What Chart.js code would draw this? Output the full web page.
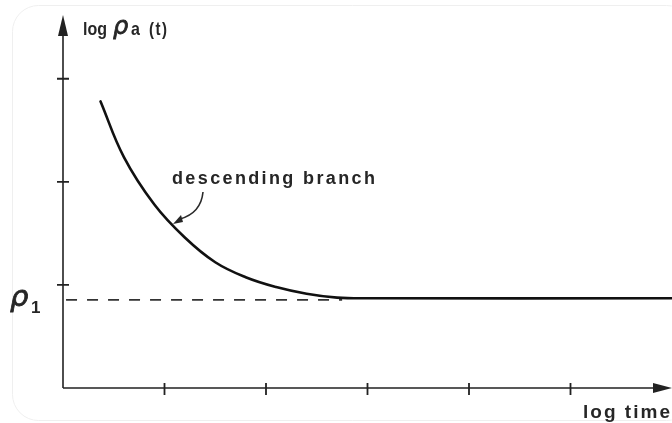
<!DOCTYPE html>
<html>
<head>
<meta charset="utf-8">
<script src="https://cdn.jsdelivr.net/npm/chart.js@4/dist/chart.umd.min.js"></script>
<style>
  html, body { margin: 0; padding: 0; background: #fff; }
  #c { display: block; }
</style>
</head>
<body>
<canvas id="c" width="672" height="423"></canvas>
<script>
// values (x in log-time units, y in log-rho units)
const branchX = [0.37, 0.6, 0.9, 1.2, 1.5, 1.8, 2.1, 2.4, 2.7, 3.0, 6.0];
const branchY = [2.78, 2.24, 1.78, 1.46, 1.22, 1.075, 0.98, 0.915, 0.877, 0.87, 0.87];
const rho1Level = 0.854;
const rho1End = 2.75;
const xTicks = [1, 2, 3, 4, 5];
const yTicks = [1, 2, 3];
const xMax = 6.0;
const yMax = 3.57;

const ink = '#222';

// text squeezed or spread to the width it has in the scan
function fitText(ctx, text, x, y, width, font) {
  ctx.font = font;
  ctx.letterSpacing = '0px';
  const w = ctx.measureText(text).width;
  const gap = (width - w) / (text.length - 1);
  ctx.letterSpacing = gap.toFixed(2) + 'px';
  ctx.fillText(text, x, y);
  ctx.letterSpacing = '0px';
}

// rho drawn a little heavier than the regular face, like the scan
function rho(ctx, x, y, size) {
  ctx.font = 'italic ' + size + 'px "DejaVu Sans", sans-serif';
  ctx.lineWidth = 0.8;
  ctx.strokeStyle = ctx.fillStyle;
  ctx.fillText('ρ', x, y);
  ctx.strokeText('ρ', x, y);
}

// axes, arrows and tick marks drawn through the chart's own scales
const axesPlugin = {
  id: 'axes',
  beforeDatasetsDraw(chart) {
    const ctx = chart.ctx;
    const sx = chart.scales.x, sy = chart.scales.y;
    const x0 = sx.getPixelForValue(0), y0 = sy.getPixelForValue(0);
    const xEnd = sx.getPixelForValue(xMax), yTop = sy.getPixelForValue(yMax);
    ctx.save();
    // faint scan border
    ctx.strokeStyle = '#efefef';
    ctx.lineWidth = 1;
    ctx.beginPath();
    ctx.roundRect(12.5, 5.5, 680, 415, 26);
    ctx.stroke();

    ctx.strokeStyle = ink;
    ctx.fillStyle = ink;
    ctx.lineWidth = 1.6;
    ctx.beginPath();
    ctx.moveTo(x0, y0);
    ctx.lineTo(x0, yTop + 10);
    ctx.moveTo(x0, y0);
    ctx.lineTo(xEnd - 12, y0);
    ctx.stroke();
    // arrow heads
    ctx.beginPath();
    ctx.moveTo(x0, yTop - 5);
    ctx.lineTo(x0 - 5, yTop + 16);
    ctx.lineTo(x0 + 5, yTop + 16);
    ctx.closePath();
    ctx.fill();
    ctx.beginPath();
    ctx.moveTo(xEnd, y0);
    ctx.lineTo(xEnd - 19, y0 - 5);
    ctx.lineTo(xEnd - 19, y0 + 5);
    ctx.closePath();
    ctx.fill();
    // ticks crossing the axes
    ctx.lineWidth = 1.8;
    ctx.beginPath();
    xTicks.forEach(v => {
      const p = sx.getPixelForValue(v);
      ctx.moveTo(p, y0 - 5);
      ctx.lineTo(p, y0 + 7);
    });
    yTicks.forEach(v => {
      const p = sy.getPixelForValue(v);
      ctx.moveTo(x0 - 6, p);
      ctx.lineTo(x0 + 6, p);
    });
    ctx.stroke();
    ctx.restore();
  },
  afterDraw(chart) {
    const ctx = chart.ctx;
    ctx.save();
    ctx.fillStyle = '#262626';
    ctx.textBaseline = 'alphabetic';

    // y axis label: log ρa(t), the scan's type is tall and narrow
    ctx.save();
    ctx.translate(0, 35);
    ctx.scale(1, 1.2);
    fitText(ctx, 'log', 83, 0, 24, 'bold 16px "Liberation Sans", Arial, sans-serif');
    fitText(ctx, 'a', 131, 0, 13, 'bold 16px "Liberation Sans", Arial, sans-serif');
    fitText(ctx, '(t)', 149, 0, 18, 'bold 15px "Liberation Sans", Arial, sans-serif');
    ctx.restore();
    rho(ctx, 113, 34, 24);

    // rho_1 label
    rho(ctx, 10, 306, 29);
    ctx.font = 'bold 17px "Liberation Sans", Arial, sans-serif';
    ctx.fillText('1', 31, 313);

    // annotation and x axis label
    fitText(ctx, 'descending branch', 172, 184, 203, 'bold 18px "Liberation Sans", Arial, sans-serif');
    fitText(ctx, 'log time', 583, 418, 87, 'bold 19px "Liberation Sans", Arial, sans-serif');

    // curved pointer arrow to the branch
    ctx.strokeStyle = '#2a2a2a';
    ctx.lineWidth = 1.6;
    ctx.beginPath();
    ctx.moveTo(203, 192);
    ctx.quadraticCurveTo(201, 213, 180, 219);
    ctx.stroke();
    ctx.beginPath();
    ctx.moveTo(173, 224);
    ctx.lineTo(181, 215);
    ctx.lineTo(183, 222);
    ctx.closePath();
    ctx.fill();
    ctx.restore();
  }
};

new Chart(document.getElementById('c'), {
  type: 'scatter',
  data: {
    datasets: [
      {
        data: branchX.map((x, i) => ({ x: x, y: branchY[i] })),
        showLine: true,
        borderColor: '#111',
        borderWidth: 2.6,
        pointRadius: 0,
        tension: 0.4,
        borderCapStyle: 'round'
      },
      {
        data: [{ x: 0.03, y: rho1Level }, { x: rho1End, y: rho1Level }],
        showLine: true,
        borderColor: '#333',
        borderWidth: 1.7,
        borderDash: [11, 10],
        pointRadius: 0
      }
    ]
  },
  options: {
    responsive: false,
    animation: false,
    devicePixelRatio: 1,
    layout: { padding: { left: 63, right: 0, top: 20, bottom: 35 } },
    scales: {
      x: { type: 'linear', display: false, min: 0, max: xMax },
      y: { type: 'linear', display: false, min: 0, max: yMax }
    },
    plugins: {
      legend: { display: false },
      tooltip: { enabled: false }
    }
  },
  plugins: [axesPlugin]
});
</script>
</body>
</html>
